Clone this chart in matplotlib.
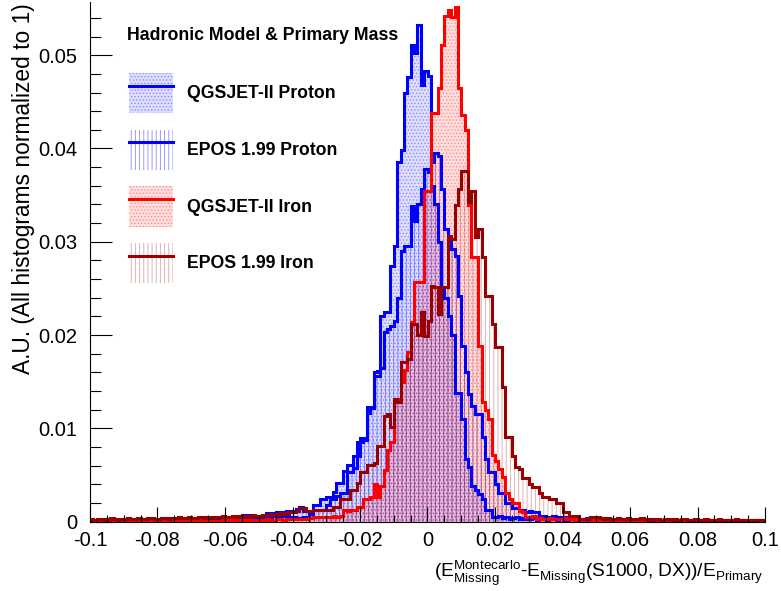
import matplotlib
matplotlib.use('Agg')
import matplotlib.pyplot as plt
import numpy as np
from matplotlib import font_manager
from matplotlib.patches import Patch
from matplotlib.lines import Line2D
from matplotlib.ticker import MultipleLocator, FuncFormatter

# bin contents in units of 1e-4, 200 bins of width 0.001 from -0.1 to 0.1
qgsjet_proton = [
    2, 1, 2, 2, 1, 3, 2, 2, 1, 2,
    2, 3, 2, 1, 2, 2, 3, 2, 2, 3,
    2, 2, 3, 3, 2, 2, 3, 2, 3, 3,
    3, 2, 3, 3, 4, 3, 3, 4, 3, 4,
    4, 3, 4, 5, 4, 7, 7, 4, 5, 5,
    4, 5, 9, 9, 9, 10, 10, 10, 11, 12,
    12, 14, 16, 12, 11, 12, 18, 18, 24, 24,
    27, 27, 32, 42, 42, 54, 61, 61, 70, 70,
    90, 90, 123, 123, 160, 161, 220, 225, 225, 274,
    296, 386, 398, 459, 477, 511, 502, 532, 468, 483,
    478, 360, 340, 300, 250, 240, 220, 200, 138, 138,
    110, 67, 59, 38, 34, 30, 24, 13, 13, 5,
    5, 6, 4, 5, 3, 4, 5, 3, 4, 3,
    3, 4, 2, 3, 3, 2, 4, 3, 2, 3,
    2, 2, 3, 2, 2, 3, 2, 2, 1, 2,
    2, 2, 1, 2, 2, 1, 2, 1, 2, 2,
    1, 2, 3, 2, 1, 2, 1, 2, 2, 1,
    2, 1, 2, 1, 1, 2, 2, 1, 2, 1,
    1, 2, 1, 2, 1, 1, 2, 1, 1, 2,
    1, 1, 2, 1, 1, 2, 1, 1, 1, 2,
]
epos_proton = [
    1, 2, 1, 1, 2, 2, 1, 2, 2, 1,
    2, 2, 1, 2, 3, 2, 2, 2, 3, 2,
    2, 3, 2, 2, 3, 2, 3, 2, 3, 3,
    2, 3, 3, 2, 3, 4, 3, 3, 4, 3,
    3, 4, 3, 4, 4, 3, 5, 4, 4, 5,
    4, 5, 5, 4, 6, 5, 5, 6, 6, 5,
    5, 4, 4, 5, 4, 8, 13, 13, 13, 13,
    18, 24, 24, 28, 31, 31, 53, 53, 58, 85,
    85, 88, 117, 122, 156, 156, 165, 203, 206, 210,
    215, 240, 290, 296, 296, 338, 322, 340, 357, 378,
    375, 386, 395, 392, 357, 314, 305, 292, 285, 242,
    188, 160, 137, 124, 115, 115, 91, 67, 53, 53,
    40, 31, 31, 20, 20, 15, 15, 13, 13, 10,
    11, 10, 10, 5, 6, 5, 5, 6, 5, 5,
    4, 5, 4, 3, 4, 3, 3, 4, 3, 3,
    4, 3, 2, 3, 3, 2, 3, 2, 2, 3,
    2, 2, 3, 2, 2, 2, 3, 2, 2, 1,
    2, 2, 2, 1, 2, 2, 1, 2, 2, 1,
    2, 1, 2, 2, 1, 2, 1, 1, 2, 1,
    2, 1, 1, 2, 1, 1, 2, 1, 1, 1,
]
qgsjet_iron = [
    1, 1, 0, 1, 1, 1, 0, 1, 1, 1,
    1, 0, 1, 1, 1, 1, 1, 0, 1, 1,
    1, 1, 1, 0, 1, 1, 2, 1, 1, 1,
    1, 1, 2, 1, 1, 1, 2, 1, 1, 2,
    1, 2, 1, 2, 2, 1, 2, 2, 1, 2,
    2, 2, 3, 2, 2, 3, 3, 2, 3, 3,
    3, 3, 3, 3, 3, 4, 5, 5, 5, 5,
    5, 5, 6, 5, 6, 13, 12, 13, 13, 16,
    16, 24, 24, 27, 40, 27, 38, 55, 77, 85,
    128, 132, 150, 163, 182, 214, 257, 257, 257, 354,
    354, 438, 438, 465, 511, 542, 548, 541, 552, 465,
    436, 420, 339, 284, 284, 188, 128, 120, 110, 72,
    65, 56, 48, 31, 24, 20, 20, 12, 10, 5,
    5, 6, 3, 4, 3, 3, 4, 3, 3, 3,
    4, 3, 3, 2, 3, 3, 2, 3, 2, 3,
    2, 2, 2, 3, 2, 2, 2, 3, 2, 2,
    2, 2, 2, 1, 2, 2, 2, 1, 2, 2,
    1, 2, 2, 1, 2, 1, 2, 2, 1, 1,
    2, 1, 2, 1, 1, 2, 1, 1, 2, 1,
    1, 1, 2, 1, 1, 1, 1, 2, 1, 1,
]
epos_iron = [
    3, 2, 3, 3, 2, 3, 4, 3, 2, 3,
    3, 4, 3, 3, 4, 3, 3, 4, 4, 3,
    3, 4, 4, 3, 4, 4, 5, 4, 4, 5,
    4, 4, 5, 5, 4, 5, 4, 5, 5, 6,
    5, 5, 6, 5, 6, 6, 5, 6, 7, 6,
    6, 7, 7, 8, 7, 8, 9, 8, 9, 10,
    10, 12, 15, 15, 12, 11, 13, 13, 13, 13,
    13, 13, 16, 16, 24, 24, 24, 34, 34, 42,
    53, 53, 61, 61, 63, 81, 81, 113, 115, 102,
    131, 128, 171, 171, 174, 212, 212, 200, 225, 199,
    215, 253, 252, 223, 252, 252, 306, 303, 339, 357,
    376, 376, 343, 354, 305, 314, 284, 242, 242, 212,
    187, 187, 144, 91, 91, 70, 59, 56, 47, 47,
    40, 37, 37, 31, 26, 26, 24, 24, 20, 20,
    10, 10, 6, 6, 6, 3, 3, 3, 5, 5,
    5, 4, 3, 4, 3, 3, 4, 3, 3, 4,
    3, 3, 3, 4, 3, 3, 2, 3, 3, 2,
    3, 3, 2, 3, 2, 3, 3, 2, 2, 3,
    2, 2, 3, 2, 2, 2, 3, 2, 2, 2,
    2, 3, 2, 2, 2, 2, 1, 2, 2, 2,
]
labels = ['QGSJET-II Proton', 'EPOS 1.99 Proton', 'QGSJET-II Iron', 'EPOS 1.99 Iron']
legend_title = 'Hadronic Model & Primary Mass'
x_min, x_max, n_bins = -0.1, 0.1, 200

names = {f.name for f in font_manager.fontManager.ttflist}
font = 'Liberation Sans Narrow' if 'Liberation Sans Narrow' in names else 'Liberation Sans'
plt.rcParams['font.family'] = [font, 'DejaVu Sans']
plt.rcParams['mathtext.fontset'] = 'custom'
plt.rcParams['mathtext.rm'] = font
plt.rcParams['hatch.linewidth'] = 0.7

edges = np.linspace(x_min, x_max, n_bins + 1)
blue, red, dark = '#0000ff', '#ff0000', '#990000'

fig = plt.figure(figsize=(7.81, 5.91), dpi=100)
ax = fig.add_axes([90 / 781, 1 - 521.7 / 591, 675 / 781, 519.7 / 591])

hists = [
    (qgsjet_proton, blue, dict(facecolor=(0, 0, 1, 0.13), edgecolor=(0, 0, 1, 0.3), hatch='.....')),
    (epos_proton, blue, dict(facecolor='none', edgecolor=(0, 0, 1, 0.4), hatch='||||')),
    (qgsjet_iron, red, dict(facecolor=(1, 0, 0, 0.13), edgecolor=(1, 0, 0, 0.3), hatch='.....')),
    (epos_iron, dark, dict(facecolor='none', edgecolor=(0.6, 0, 0, 0.3), hatch='||||')),
]

handles = []
for vals, col, fill in hists:
    v = np.array(vals) * 1e-4
    ax.stairs(v, edges, fill=True, linewidth=0, **fill)
    handles.append((Patch(linewidth=0, **fill), Line2D([], [], color=col, lw=2.2)))
for vals, col, fill in hists:
    v = np.array(vals) * 1e-4
    ax.stairs(v, edges, color=col, linewidth=2.2)

ax.set_xlim(x_min, x_max)
ax.set_ylim(0, 0.0557)
ax.spines['top'].set_visible(False)
ax.spines['right'].set_visible(False)
ax.xaxis.set_major_locator(MultipleLocator(0.02))
ax.xaxis.set_minor_locator(MultipleLocator(0.005))
ax.yaxis.set_major_locator(MultipleLocator(0.01))
ax.yaxis.set_minor_locator(MultipleLocator(0.002))
fmt = FuncFormatter(lambda v, p: '%g' % round(v, 4) if abs(v) > 1e-9 else '0')
ax.xaxis.set_major_formatter(fmt)
ax.yaxis.set_major_formatter(fmt)
ax.tick_params(axis='x', which='major', direction='in', length=10.5, width=0.8, pad=7, labelsize=14.5)
ax.tick_params(axis='x', which='minor', direction='in', length=5, width=0.8)
ax.tick_params(axis='y', which='major', direction='in', length=16, width=0.8, pad=9, labelsize=14.5)
ax.tick_params(axis='y', which='minor', direction='in', length=8, width=0.8)

fig.text(24 / 781, 1 - 3 / 591, 'A.U. (All histograms normalized to 1)', rotation=90,
         ha='center', va='top', fontsize=16.4)
fig.text(763 / 781, 1 - 577 / 591,
         r'$(\mathrm{E}^{\mathrm{Montecarlo}}_{\mathrm{Missing}}\text{-}\mathrm{E}_{\mathrm{Missing}}'
         r'\text{(S1000, DX))/E}_{\mathrm{Primary}}$',
         ha='right', va='baseline', fontsize=13.8)

fig.text(127 / 781, 1 - 35 / 591, legend_title, ha='left', va='center',
         fontsize=12.8, fontweight='bold')
leg = ax.legend(handles, labels, loc='upper left',
                bbox_to_anchor=(129 / 781, 1 - 73 / 591), bbox_transform=fig.transFigure,
                frameon=False, borderpad=0, borderaxespad=0,
                prop=dict(weight='bold', size=12.7),
                handlelength=2.5, handleheight=3.15, handletextpad=0.8, labelspacing=0.92)

fig.savefig('out.png', dpi=100)
